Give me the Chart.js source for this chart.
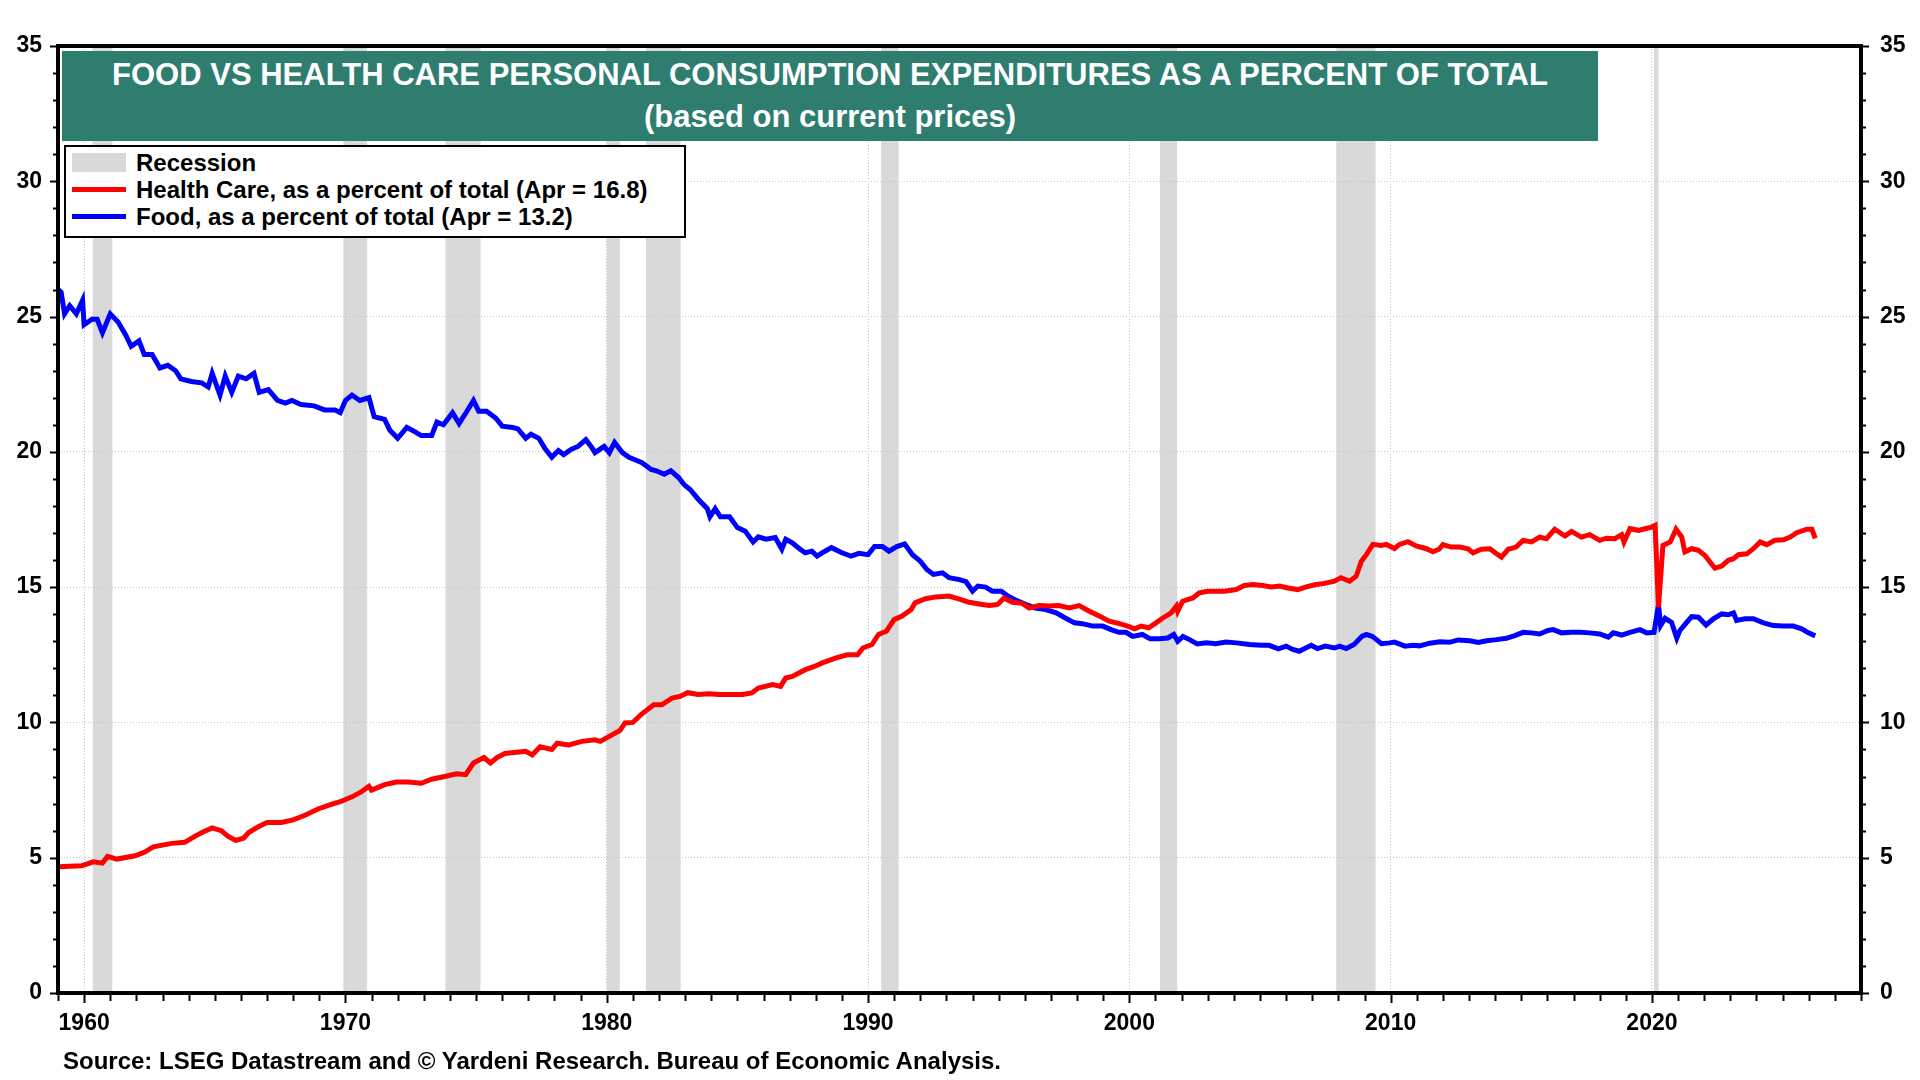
<!DOCTYPE html>
<html>
<head>
<meta charset="utf-8">
<script src="https://cdn.jsdelivr.net/npm/chart.js@4.4.1/dist/chart.umd.min.js"></script>
<style>
  html, body { margin: 0; padding: 0; background: #fff; }
  #wrap { position: relative; width: 1920px; height: 1080px; font-family: "Liberation Sans", Arial, sans-serif; }
  #chart { position: absolute; left: 0; top: 0; }
  #title {
    position: absolute; left: 62px; top: 51px; width: 1536px; height: 90px;
    box-sizing: border-box; padding-top: 3px;
    background: #2e7d6f; color: #fff; font-weight: bold; font-size: 31px;
    line-height: 42px; text-align: center;
  }
  #legend {
    position: absolute; left: 64px; top: 145px; width: 622px; height: 93px;
    box-sizing: border-box; border: 2px solid #000; background: #fff;
    padding: 2px 0 0 6px;
  }
  .row { display: flex; align-items: center; height: 27px; font-size: 24px; font-weight: bold; color: #000; }
  .sw { width: 54px; margin-right: 10px; }
  #source {
    position: absolute; left: 63px; top: 1049px; font-size: 24px; line-height: 24px;
    font-weight: bold; color: #000;
  }
</style>
</head>
<body>
<div id="wrap">
  <canvas id="chart" width="1920" height="1080"></canvas>
  <div id="title">FOOD VS HEALTH CARE PERSONAL CONSUMPTION EXPENDITURES AS A PERCENT OF TOTAL<br>(based on current prices)</div>
  <div id="legend">
    <div class="row"><span class="sw" style="height:19px;background:#d9d9d9"></span>Recession</div>
    <div class="row"><span class="sw" style="height:5px;background:#ff0000"></span>Health Care, as a percent of total (Apr = 16.8)</div>
    <div class="row"><span class="sw" style="height:5px;background:#0000ff"></span>Food, as a percent of total (Apr = 13.2)</div>
  </div>
  <div id="source">Source: LSEG Datastream and © Yardeni Research. Bureau of Economic Analysis.</div>
</div>
<script>
// Axis ticks
const xTickYears = [1960, 1970, 1980, 1990, 2000, 2010, 2020];
const yTickValues = [0, 5, 10, 15, 20, 25, 30, 35];

// NBER recessions (decimal years)
const recessionStarts = [1960.33, 1969.92, 1973.83, 1980.0, 1981.5, 1990.5, 2001.17, 2007.92, 2020.08];
const recessionEnds   = [1961.08, 1970.83, 1975.17, 1980.5, 1982.83, 1991.17, 2001.83, 2009.42, 2020.25];

// Health care, % of total PCE
const healthYears = [
  1959.0, 1959.9, 1960.35, 1960.7, 1960.9, 1961.25, 1961.95, 1962.3, 1962.65, 1963.35,
  1963.85, 1964.25, 1964.55, 1964.9, 1965.25, 1965.5, 1965.8, 1966.1, 1966.3, 1966.65,
  1967.0, 1967.55, 1968.0, 1968.45, 1968.95, 1969.4, 1969.8, 1970.25, 1970.6, 1970.9,
  1971.0, 1971.5, 1971.95, 1972.4, 1972.9, 1973.3, 1973.8, 1974.25, 1974.6, 1974.9,
  1975.3, 1975.55, 1975.8, 1976.1, 1976.9, 1977.15, 1977.45, 1977.9, 1978.1, 1978.55,
  1979.05, 1979.55, 1979.75, 1980.2, 1980.5, 1980.7, 1981.0, 1981.3, 1981.8, 1982.1,
  1982.5, 1982.8, 1983.1, 1983.5, 1983.9, 1984.3, 1984.8, 1985.2, 1985.55, 1985.8,
  1986.35, 1986.65, 1986.85, 1987.1, 1987.6, 1987.95, 1988.25, 1988.75, 1989.2, 1989.6,
  1989.8, 1990.15, 1990.4, 1990.7, 1991.0, 1991.3, 1991.65, 1991.8, 1992.2, 1992.6,
  1993.1, 1993.5, 1993.87, 1994.25, 1994.64, 1994.96, 1995.2, 1995.53, 1995.9, 1996.17,
  1996.55, 1996.93, 1997.3, 1997.7, 1998.08, 1998.47, 1998.85, 1999.23, 1999.62, 1999.94,
  2000.2, 2000.45, 2000.74, 2001.02, 2001.28, 2001.6, 2001.8, 2001.85, 2002.04, 2002.43,
  2002.68, 2003.0, 2003.32, 2003.64, 2004.09, 2004.4, 2004.73, 2005.1, 2005.43, 2005.75,
  2006.07, 2006.45, 2006.77, 2007.1, 2007.47, 2007.85, 2008.1, 2008.43, 2008.68, 2008.88,
  2009.07, 2009.32, 2009.64, 2009.83, 2010.15, 2010.34, 2010.66, 2010.98, 2011.37, 2011.62,
  2011.85, 2012.0, 2012.32, 2012.64, 2012.96, 2013.15, 2013.47, 2013.8, 2014.0, 2014.24,
  2014.5, 2014.8, 2015.07, 2015.39, 2015.7, 2015.96, 2016.28, 2016.67, 2016.92, 2017.3,
  2017.62, 2018.0, 2018.26, 2018.58, 2018.84, 2018.93, 2019.16, 2019.48, 2019.73, 2019.99,
  2020.12, 2020.25, 2020.42, 2020.7, 2020.92, 2021.14, 2021.26, 2021.52, 2021.78, 2022.03,
  2022.22, 2022.41, 2022.67, 2022.92, 2023.12, 2023.31, 2023.63, 2023.88, 2024.14, 2024.39,
  2024.71, 2025.03, 2025.29, 2025.54, 2025.93, 2026.12, 2026.25
];
const healthValues = [
  4.67, 4.7, 4.85, 4.8, 5.05, 4.95, 5.07, 5.2, 5.4, 5.53,
  5.57, 5.8, 5.95, 6.1, 6.0, 5.8, 5.64, 5.72, 5.93, 6.14,
  6.3, 6.3, 6.4, 6.57, 6.8, 6.95, 7.07, 7.25, 7.43, 7.64,
  7.5, 7.7, 7.8, 7.8, 7.75, 7.9, 8.0, 8.1, 8.07, 8.5,
  8.7, 8.5, 8.7, 8.85, 8.93, 8.8, 9.1, 9.0, 9.23, 9.17,
  9.3, 9.36, 9.3, 9.54, 9.7, 9.98, 10.0, 10.28, 10.65, 10.65,
  10.9, 10.96, 11.1, 11.03, 11.06, 11.03, 11.03, 11.03, 11.09, 11.27,
  11.4, 11.33, 11.64, 11.7, 11.95, 12.07, 12.2, 12.38, 12.5, 12.5,
  12.75, 12.88, 13.25, 13.37, 13.8, 13.93, 14.17, 14.42, 14.57, 14.64,
  14.67, 14.56, 14.44, 14.38, 14.32, 14.36, 14.6, 14.44, 14.4, 14.23,
  14.32, 14.3, 14.32, 14.23, 14.32, 14.11, 13.93, 13.74, 13.65, 13.56,
  13.46, 13.56, 13.5, 13.68, 13.86, 14.05, 14.3, 14.11, 14.48, 14.6,
  14.79, 14.85, 14.85, 14.85, 14.91, 15.06, 15.1, 15.06, 15.01, 15.04,
  14.97, 14.91, 15.01, 15.09, 15.14, 15.22, 15.35, 15.22, 15.4, 15.96,
  16.2, 16.58, 16.54, 16.58, 16.43, 16.58, 16.68, 16.52, 16.42, 16.31,
  16.4, 16.57, 16.48, 16.48, 16.42, 16.27, 16.4, 16.42, 16.27, 16.11,
  16.4, 16.48, 16.73, 16.67, 16.85, 16.79, 17.14, 16.89, 17.06, 16.85,
  16.94, 16.73, 16.81, 16.79, 16.94, 16.67, 17.16, 17.1, 17.16, 17.22,
  17.28, 14.26, 16.54, 16.67, 17.14, 16.85, 16.3, 16.42, 16.36, 16.17,
  15.93, 15.7, 15.78, 15.99, 16.05, 16.2, 16.23, 16.42, 16.67, 16.57,
  16.73, 16.75, 16.85, 17.01, 17.14, 17.14, 16.8
];

// Food, % of total PCE
const foodYears = [
  1959.0, 1959.12, 1959.25, 1959.45, 1959.7, 1959.94, 1960.0, 1960.3, 1960.5, 1960.7, 1961.0,
  1961.3, 1961.6, 1961.8, 1962.1, 1962.3, 1962.6, 1962.9, 1963.2, 1963.5, 1963.7,
  1964.1, 1964.5, 1964.75, 1964.9, 1965.2, 1965.4, 1965.65, 1965.9, 1966.2, 1966.5,
  1966.7, 1967.05, 1967.4, 1967.7, 1967.95, 1968.3, 1968.8, 1969.2, 1969.6, 1969.8,
  1970.0, 1970.25, 1970.55, 1970.9, 1971.1, 1971.5, 1971.7, 1972.0, 1972.35, 1972.65,
  1972.9, 1973.3, 1973.5, 1973.75, 1974.1, 1974.35, 1974.65, 1974.9, 1975.1, 1975.4,
  1975.75, 1976.0, 1976.4, 1976.6, 1976.9, 1977.1, 1977.4, 1977.65, 1977.9, 1978.15,
  1978.35, 1978.65, 1978.9, 1979.2, 1979.4, 1979.55, 1979.9, 1980.1, 1980.3, 1980.6,
  1980.85, 1981.1, 1981.35, 1981.7, 1981.9, 1982.2, 1982.45, 1982.75, 1982.95, 1983.2,
  1983.5, 1983.85, 1983.95, 1984.15, 1984.35, 1984.7, 1985.0, 1985.3, 1985.6, 1985.8,
  1986.1, 1986.45, 1986.7, 1986.85, 1987.1, 1987.4, 1987.6, 1987.85, 1988.05, 1988.3,
  1988.6, 1989.0, 1989.35, 1989.65, 1990.0, 1990.25, 1990.55, 1990.8, 1991.1, 1991.4,
  1991.7, 1992.0, 1992.25, 1992.5, 1992.85, 1993.1, 1993.5, 1993.75, 1994.0, 1994.2,
  1994.5, 1994.76, 1995.1, 1995.35, 1995.65, 1996.05, 1996.4, 1996.8, 1997.2, 1997.55,
  1997.9, 1998.2, 1998.6, 1998.98, 1999.3, 1999.6, 1999.87, 2000.13, 2000.5, 2000.8,
  2001.15, 2001.47, 2001.7, 2001.85, 2002.05, 2002.3, 2002.6, 2002.95, 2003.3, 2003.7,
  2004.1, 2004.6, 2005.05, 2005.35, 2005.7, 2006.0, 2006.25, 2006.5, 2006.96, 2007.2,
  2007.5, 2007.85, 2008.05, 2008.3, 2008.6, 2008.9, 2009.07, 2009.3, 2009.65, 2009.96,
  2010.15, 2010.55, 2010.86, 2011.1, 2011.5, 2011.88, 2012.26, 2012.58, 2013.03, 2013.35,
  2013.67, 2014.05, 2014.43, 2014.75, 2015.07, 2015.39, 2015.7, 2016.02, 2016.22, 2016.54,
  2016.92, 2017.24, 2017.62, 2018.0, 2018.33, 2018.52, 2018.84, 2019.16, 2019.54, 2019.8,
  2020.08, 2020.25, 2020.33, 2020.5, 2020.75, 2020.95, 2021.07, 2021.33, 2021.52, 2021.78,
  2022.07, 2022.35, 2022.67, 2022.92, 2023.12, 2023.24, 2023.56, 2023.88, 2024.27, 2024.65,
  2025.03, 2025.41, 2025.73, 2025.99, 2026.25
];
const foodValues = [
  26.0, 25.9, 25.1, 25.4, 25.1, 25.6, 24.7, 24.9, 24.9, 24.4, 25.1,
  24.8, 24.3, 23.9, 24.1, 23.6, 23.6, 23.1, 23.2, 23.0, 22.7,
  22.6, 22.55, 22.4, 22.9, 22.1, 22.8, 22.2, 22.8, 22.7, 22.9,
  22.2, 22.3, 21.9, 21.8, 21.9, 21.75, 21.7, 21.55, 21.55, 21.45,
  21.9, 22.1, 21.9, 22.0, 21.3, 21.2, 20.8, 20.5, 20.9, 20.75,
  20.6, 20.6, 21.1, 21.0, 21.45, 21.05, 21.5, 21.9, 21.5, 21.5,
  21.25, 20.95, 20.9, 20.85, 20.5, 20.65, 20.5, 20.1, 19.8, 20.05,
  19.9, 20.1, 20.2, 20.45, 20.2, 19.97, 20.2, 19.97, 20.35, 19.97,
  19.8, 19.7, 19.6, 19.35, 19.3, 19.17, 19.3, 19.05, 18.8, 18.6,
  18.25, 17.9, 17.6, 17.9, 17.6, 17.6, 17.2, 17.07, 16.67, 16.86,
  16.77, 16.83, 16.4, 16.77, 16.64, 16.4, 16.27, 16.33, 16.15, 16.3,
  16.46, 16.27, 16.15, 16.25, 16.2, 16.5, 16.5, 16.33, 16.5, 16.6,
  16.2, 15.96, 15.65, 15.47, 15.53, 15.35, 15.28, 15.2, 14.85, 15.04,
  15.0, 14.85, 14.85, 14.67, 14.52, 14.36, 14.23, 14.17, 14.05, 13.86,
  13.68, 13.65, 13.56, 13.56, 13.43, 13.33, 13.33, 13.18, 13.25, 13.09,
  13.09, 13.12, 13.25, 13.0, 13.18, 13.06, 12.9, 12.94, 12.91, 12.97,
  12.94, 12.88, 12.85, 12.85, 12.72, 12.82, 12.7, 12.63, 12.85, 12.73,
  12.82, 12.75, 12.82, 12.73, 12.88, 13.18, 13.25, 13.18, 12.91, 12.94,
  12.97, 12.82, 12.85, 12.83, 12.93, 12.98, 12.96, 13.05, 13.02, 12.96,
  13.02, 13.06, 13.11, 13.21, 13.33, 13.31, 13.27, 13.4, 13.43, 13.31,
  13.33, 13.33, 13.31, 13.27, 13.15, 13.31, 13.23, 13.33, 13.43, 13.31,
  13.33, 14.35, 13.58, 13.85, 13.7, 13.11, 13.4, 13.7, 13.91, 13.89,
  13.6, 13.83, 14.01, 13.98, 14.05, 13.77, 13.83, 13.83, 13.68, 13.58,
  13.56, 13.56, 13.46, 13.31, 13.2
];

const toPoints = (xs, ys) => xs.map((x, i) => ({ x: x, y: ys[i] }));

Chart.defaults.font.family = '"Liberation Sans", Arial, sans-serif';
Chart.defaults.color = '#000';

// Recession shading, frame and major/minor ticks
const decor = {
  id: 'decor',
  beforeDraw(chart) {
    const { ctx, chartArea: a, scales: { x } } = chart;
    ctx.save();
    ctx.fillStyle = '#d9d9d9';
    recessionStarts.forEach((s, i) => {
      const x0 = x.getPixelForValue(s);
      const x1 = x.getPixelForValue(recessionEnds[i]);
      ctx.fillRect(x0, a.top, x1 - x0, a.bottom - a.top);
    });
    ctx.restore();
  },
  afterDraw(chart) {
    const { ctx, chartArea: a, scales: { x, y } } = chart;
    ctx.save();
    ctx.strokeStyle = '#000';
    ctx.lineWidth = 2;
    // x ticks, every year
    for (let yr = 1959; yr <= 2028; yr++) {
      const px = Math.round(x.getPixelForValue(yr)) + 0.5;
      const len = yr % 10 === 0 ? 10 : 8;
      ctx.beginPath();
      ctx.moveTo(px, a.bottom);
      ctx.lineTo(px, a.bottom + len);
      ctx.stroke();
    }
    // y ticks, every unit, both sides
    for (let v = 0; v <= 35; v++) {
      const py = Math.round(y.getPixelForValue(v)) + 0.5;
      const len = v % 5 === 0 ? 8 : 5;
      ctx.beginPath();
      ctx.moveTo(a.left - len, py);
      ctx.lineTo(a.left, py);
      ctx.moveTo(a.right, py);
      ctx.lineTo(a.right + len, py);
      ctx.stroke();
    }
    // frame
    ctx.lineWidth = 4;
    ctx.strokeRect(a.left, a.top, a.right - a.left, a.bottom - a.top);
    ctx.restore();
  }
};

const gridStyle = { color: '#c4c4c4', lineWidth: 1, drawTicks: false };
const tickFont = { size: 23, weight: 'bold' };

new Chart(document.getElementById('chart'), {
  type: 'line',
  data: {
    datasets: [
      {
        label: 'Health Care, as a percent of total',
        data: toPoints(healthYears, healthValues),
        borderColor: '#ff0000',
        borderWidth: 5,
        pointRadius: 0,
        tension: 0
      },
      {
        label: 'Food, as a percent of total',
        data: toPoints(foodYears, foodValues),
        borderColor: '#0000ff',
        borderWidth: 5,
        pointRadius: 0,
        tension: 0
      }
    ]
  },
  options: {
    responsive: false,
    animation: false,
    devicePixelRatio: 1,
    layout: { padding: { top: 46, left: 0, right: 0, bottom: 0 } },
    plugins: {
      legend: { display: false },
      tooltip: { enabled: false }
    },
    scales: {
      x: {
        type: 'linear',
        min: 1959,
        max: 2028,
        afterBuildTicks: s => { s.ticks = xTickYears.map(v => ({ value: v })); },
        afterFit: s => { s.height = 87; },
        grid: gridStyle,
        border: { display: false, dash: [1, 2] },
        ticks: { font: tickFont, padding: 17, maxRotation: 0, callback: v => String(v) }
      },
      y: {
        position: 'left',
        min: 0,
        max: 35,
        afterBuildTicks: s => { s.ticks = yTickValues.map(v => ({ value: v })); },
        afterFit: s => { s.width = 58; },
        grid: gridStyle,
        border: { display: false, dash: [1, 2] },
        ticks: { font: tickFont, padding: 16, callback: v => String(v) }
      },
      y2: {
        position: 'right',
        min: 0,
        max: 35,
        afterBuildTicks: s => { s.ticks = yTickValues.map(v => ({ value: v })); },
        afterFit: s => { s.width = 59; },
        grid: { display: false, drawTicks: false },
        border: { display: false },
        ticks: { font: tickFont, padding: 19, callback: v => String(v) }
      }
    }
  },
  plugins: [decor]
});
</script>
</body>
</html>
